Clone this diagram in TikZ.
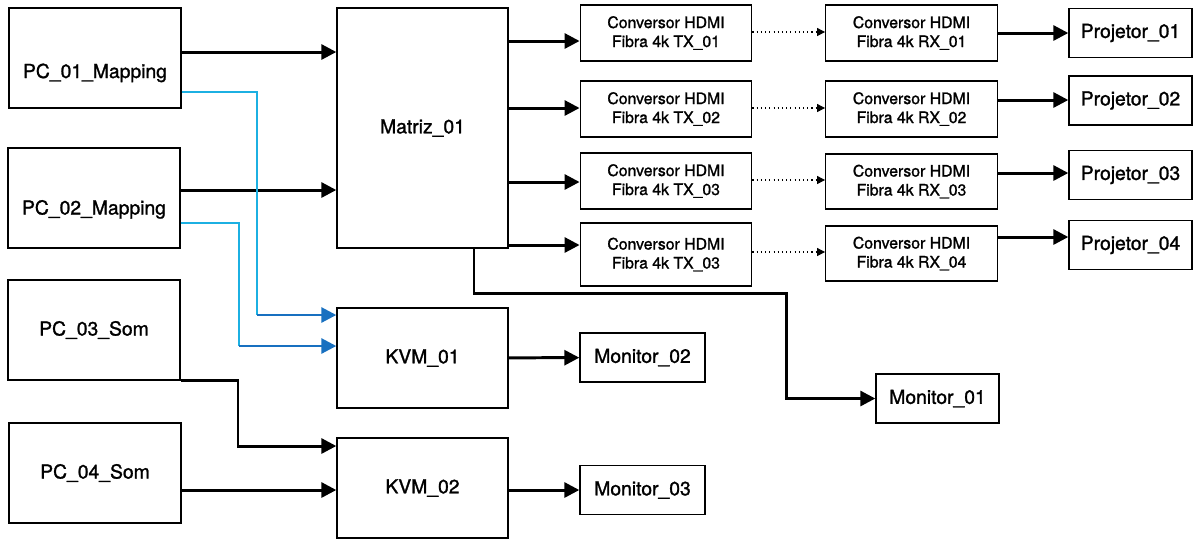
\documentclass[tikz,border=0pt]{standalone}
\usepackage{fontspec}
\setmainfont{TeX Gyre Heros}[FakeBold=1.3]
\usepackage{tikz}
\usetikzlibrary{arrows.meta}
\tikzset{>={Triangle[length=0.3cm,width=0.3cm]}}
\definecolor{cabo}{RGB}{28,176,226}
\definecolor{caboseta}{RGB}{24,112,192}
\tikzset{
  caixa/.style={draw,line width=0.8pt,inner sep=0pt,align=center,font=\fontsize{11}{13}\selectfont},
  pcbox/.style={caixa,minimum width=3.44cm,minimum height=2cm},
  grande/.style={caixa,minimum width=3.42cm,minimum height=#1},
  conv/.style={caixa,minimum width=3.43cm,minimum height=#1,font=\fontsize{9}{10.8}\selectfont},
  saida/.style={caixa,minimum width=#1,minimum height=0.98cm},
  baixo/.style={text height=#1,text depth=0.05cm},
  fio/.style={->,line width=1.7pt},
  azul/.style={cabo,line width=1.5pt},
  azulseta/.style={->,caboseta,line width=1.6pt},
  pontilhado/.style={-{Triangle[length=0.16cm,width=0.16cm]},line width=0.6pt,dash pattern=on 0.6pt off 1.8pt}
}
\begin{document}
\begin{tikzpicture}[x=0.02cm,y=-0.02cm]
  \useasboundingbox (0,0) rectangle (1196,539);
  \node[pcbox,baixo=0.85cm] (pc1) at (95,58) {PC\_01\_Mapping};
  \node[pcbox,baixo=0.71cm] (pc2) at (94,198) {PC\_02\_Mapping};
  \node[pcbox] (pc3) at (94,330) {PC\_03\_Som};
  \node[pcbox] (pc4) at (95,473) {PC\_04\_Som};
  \node[grande=4.8cm] (matriz) at (422.5,128) {Matriz\_01};
  \node[grande=2cm] (kvm1) at (422.5,358) {KVM\_01};
  \node[grande=2cm] (kvm2) at (422.5,488) {KVM\_02};
  \node[conv=1.12cm] (tx1) at (666,33) {Conversor HDMI\\Fibra 4k TX\_01};
  \node[conv=1.12cm] (tx2) at (666,109) {Conversor HDMI\\Fibra 4k TX\_02};
  \node[conv=1.12cm] (tx3) at (666,181) {Conversor HDMI\\Fibra 4k TX\_03};
  \node[conv=1.26cm] (tx4) at (666,254.5) {Conversor HDMI\\Fibra 4k TX\_03};
  \node[conv=1.12cm] (rx1) at (911.5,33) {Conversor HDMI\\Fibra 4k RX\_01};
  \node[conv=1.12cm] (rx2) at (911.5,109) {Conversor HDMI\\Fibra 4k RX\_02};
  \node[conv=1.1cm] (rx3) at (911.5,181.5) {Conversor HDMI\\Fibra 4k RX\_03};
  \node[conv=1.1cm] (rx4) at (911.5,253.5) {Conversor HDMI\\Fibra 4k RX\_04};
  \node[saida=2.46cm] (pj1) at (1130.5,33) {Projetor\_01};
  \node[saida=2.46cm] (pj2) at (1130.5,100.5) {Projetor\_02};
  \node[saida=2.46cm] (pj3) at (1130.5,175) {Projetor\_03};
  \node[saida=2.46cm] (pj4) at (1130.5,245) {Projetor\_04};
  \node[saida=2.5cm] (mon2) at (642.5,357.5) {Monitor\_02};
  \node[saida=2.5cm] (mon3) at (642.5,490) {Monitor\_03};
  \node[saida=2.46cm] (mon1) at (937.5,398.5) {Monitor\_01};
  \coordinate (c1) at (257,315);
  \coordinate (c2) at (239,346);
  \coordinate (c3) at (238,446);
  \draw[fio] (pc1.east |- 0,52) -- (matriz.west |- 0,52);
  \draw[fio] (pc2.east |- 0,190) -- (matriz.west |- 0,190);
  \draw[azul] (pc1.east |- 0,92) -| (c1);
  \draw[azul] (pc2.east |- 0,223) -| (c2);
  \draw[azulseta] (c1) -- (kvm1.west |- c1);
  \draw[azulseta] (c2) -- (kvm1.west |- c2);
  \draw[fio] (pc3.south east) -| (c3) -- (kvm2.west |- c3);
  \draw[fio] (pc4.east |- 0,490) -- (kvm2.west |- 0,490);
  \foreach \i/\y in {1/41,2/108,3/182,4/245}
    \draw[fio] (matriz.east |- 0,\y) -- (tx\i.west |- 0,\y);
  \foreach \i/\y in {1/32,2/108,3/180,4/252}
    \draw[pontilhado] (tx\i.east |- 0,\y) -- (rx\i.west |- 0,\y);
  \foreach \i/\y in {1/33,2/100,3/173,4/237}
    \draw[fio] (rx\i.east |- 0,\y) -- (pj\i.west |- 0,\y);
  \draw[fio] ([xshift=1.03cm]matriz.south) |- (786,293) |- (mon1.west);
  \draw[fio] (kvm1) -- (mon2);
  \draw[fio] (kvm2.east |- mon3) -- (mon3);
\end{tikzpicture}
\end{document}
